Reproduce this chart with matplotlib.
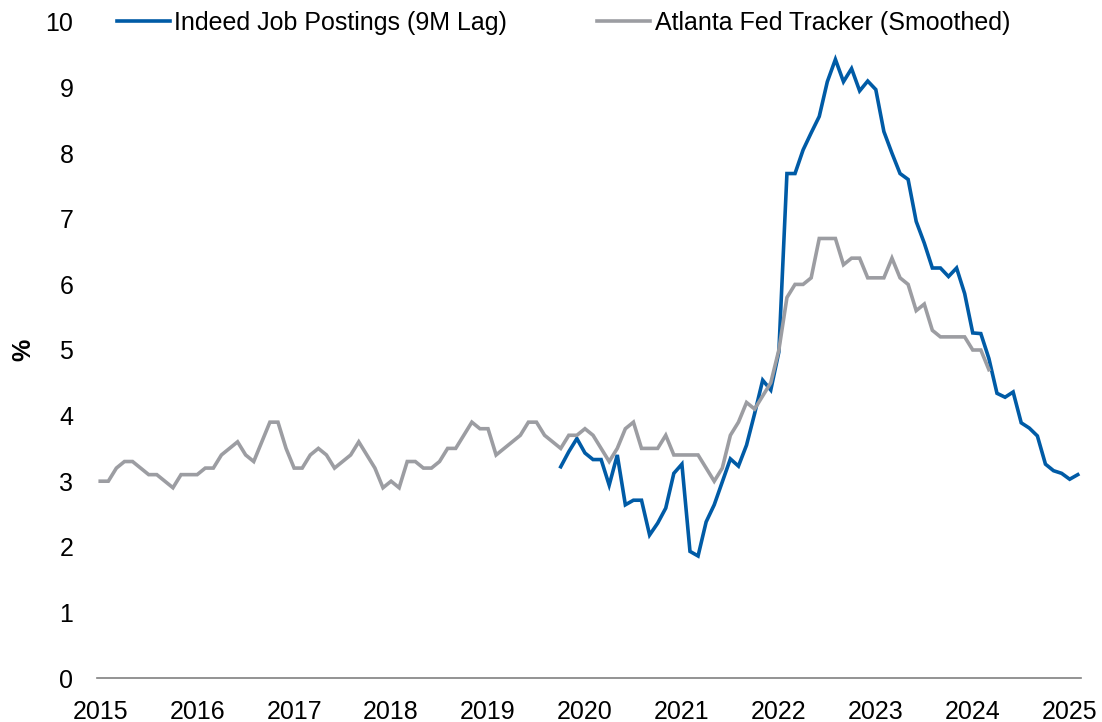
import matplotlib
matplotlib.use("Agg")
import matplotlib.pyplot as plt
import numpy as np

plt.rcParams['font.family'] = ['Liberation Sans', 'DejaVu Sans']

# Monthly series; index 0 = Jan 2015
atlanta_start = 0  # Jan 2015
atlanta = [
    3.0, 3.0, 3.2, 3.3, 3.3, 3.2, 3.1, 3.1, 3.0, 2.9, 3.1, 3.1,   # 2015
    3.1, 3.2, 3.2, 3.4, 3.5, 3.6, 3.4, 3.3, 3.6, 3.9, 3.9, 3.5,   # 2016
    3.2, 3.2, 3.4, 3.5, 3.4, 3.2, 3.3, 3.4, 3.6, 3.4, 3.2, 2.9,   # 2017
    3.0, 2.9, 3.3, 3.3, 3.2, 3.2, 3.3, 3.5, 3.5, 3.7, 3.9, 3.8,   # 2018
    3.8, 3.4, 3.5, 3.6, 3.7, 3.9, 3.9, 3.7, 3.6, 3.5, 3.7, 3.7,   # 2019
    3.8, 3.7, 3.5, 3.3, 3.5, 3.8, 3.9, 3.5, 3.5, 3.5, 3.7, 3.4,   # 2020
    3.4, 3.4, 3.4, 3.2, 3.0, 3.2, 3.7, 3.9, 4.2, 4.1, 4.3, 4.5,   # 2021
    5.0, 5.8, 6.0, 6.0, 6.1, 6.7, 6.7, 6.7, 6.3, 6.4, 6.4, 6.1,   # 2022
    6.1, 6.1, 6.4, 6.1, 6.0, 5.6, 5.7, 5.3, 5.2, 5.2, 5.2, 5.2,   # 2023
    5.0, 5.0, 4.7,                                                # 2024
]

indeed_start = 57  # Oct 2019
indeed = [
    3.22, 3.45, 3.65,                                                           # 2019
    3.43, 3.33, 3.33, 2.94, 3.40, 2.64, 2.71, 2.71, 2.18, 2.36, 2.59, 3.12,     # 2020
    3.26, 1.93, 1.86, 2.38, 2.64, 2.99, 3.34, 3.23, 3.55, 4.03, 4.54, 4.39,     # 2021
    4.97, 7.69, 7.69, 8.05, 8.31, 8.56, 9.09, 9.43, 9.09, 9.29, 8.95, 9.10,     # 2022
    8.97, 8.33, 8.00, 7.69, 7.60, 6.96, 6.63, 6.25, 6.25, 6.12, 6.25, 5.86,     # 2023
    5.26, 5.25, 4.87, 4.34, 4.28, 4.36, 3.89, 3.81, 3.69, 3.26, 3.16, 3.12,     # 2024
    3.03, 3.10,                                                                 # 2025
]

years = list(range(2015, 2026))
yticks = list(range(0, 11))

blue = '#005BA6'
grey = '#9C9DA2'
fs = 18

fig = plt.figure(figsize=(11.02, 7.22), dpi=100)
ax = fig.add_axes([97/1102, 44/722, (1081-97)/1102, (678-22)/722])

xa = np.arange(atlanta_start, atlanta_start + len(atlanta))
xi = np.arange(indeed_start, indeed_start + len(indeed))
ax.plot(xi, indeed, color=blue, lw=2.6, label='Indeed Job Postings (9M Lag)', solid_joinstyle='miter')
ax.plot(xa, atlanta, color=grey, lw=2.6, label='Atlanta Fed Tracker (Smoothed)', solid_joinstyle='miter')

ax.set_xlim(-0.4, 121.4)
ax.set_ylim(0, 10)
ax.set_xticks([12 * (y - 2015) for y in years])
ax.set_xticklabels([str(y) for y in years])
ax.set_yticks(yticks)
ax.set_yticklabels([str(t) for t in yticks])
ax.tick_params(axis='both', length=0, labelsize=fs, colors='black')
ax.tick_params(axis='y', pad=17)
ax.tick_params(axis='x', pad=15.5)

for s in ['top', 'right', 'left']:
    ax.spines[s].set_visible(False)
ax.spines['bottom'].set_color('#808080')
ax.spines['bottom'].set_linewidth(1.2)

ax.set_ylabel('%', fontsize=fs, fontweight='bold')
ax.yaxis.set_label_coords(-62/984, 0.5)

leg = fig.legend(loc='center left', bbox_to_anchor=(117/1102, (722-23)/722), ncol=2,
                 frameon=False, fontsize=fs, handlelength=2.1, handletextpad=0.2,
                 columnspacing=3.6, borderpad=0, borderaxespad=0)

fig.savefig('out.png', dpi=100)
